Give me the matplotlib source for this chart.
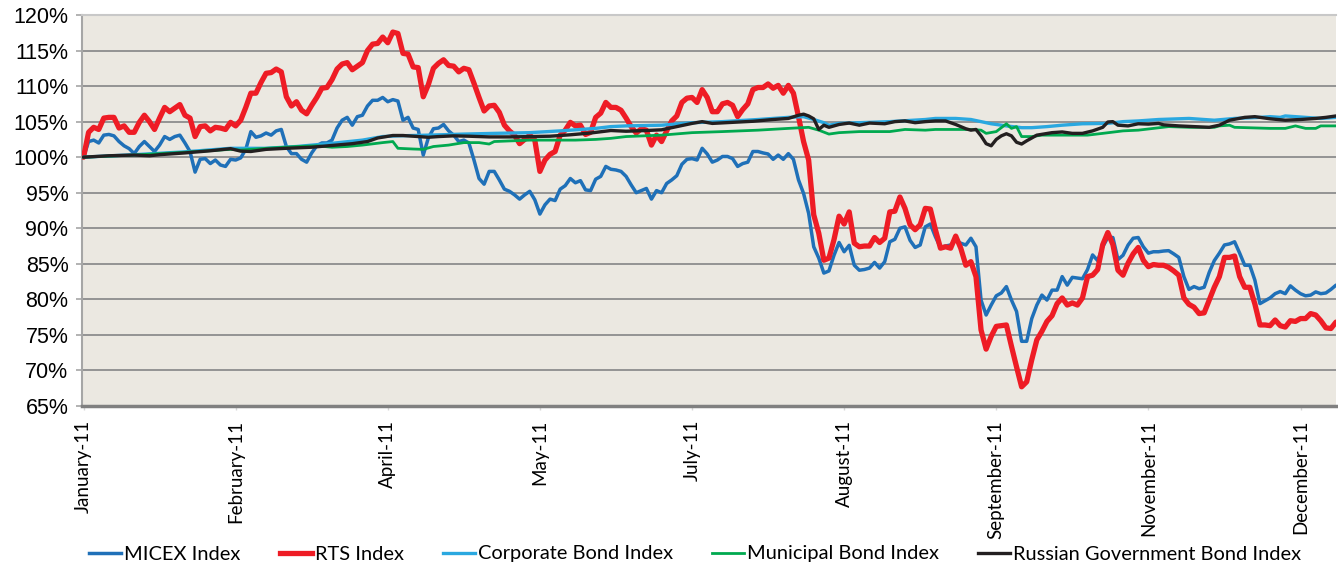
import numpy as np
import matplotlib
matplotlib.use("Agg")
import matplotlib.pyplot as plt
from matplotlib.lines import Line2D

# ---------------- data ----------------
tick_days = [0, 30, 60, 90, 120, 150, 180, 210, 240]
tick_labels = ["January-11", "February-11", "April-11", "May-11", "July-11",
               "August-11", "September-11", "November-11", "December-11"]

micex = [100.0, 102.2, 102.4, 102.0, 103.1, 103.2, 103.0, 102.2, 101.6, 101.2,
         100.5, 101.5, 102.2, 101.5, 100.8, 101.7, 102.9, 102.5, 102.9, 103.1,
         102.0, 100.8, 97.9, 99.7, 99.8, 99.1, 99.6, 98.9, 98.7, 99.7,
         99.6, 99.9, 101.1, 103.6, 102.8, 103.0, 103.4, 103.1, 103.7, 103.9,
         101.5, 100.5, 100.5, 99.7, 99.3, 100.6, 101.6, 102.0, 102.0, 102.4,
         104.1, 105.2, 105.6, 104.5, 105.7, 105.9, 107.2, 108.0, 108.0, 108.4,
         107.8, 108.1, 107.9, 105.2, 105.6, 104.1, 103.9, 100.3, 102.7, 104.0,
         104.1, 104.6, 103.7, 103.1, 102.2, 102.4, 102.0, 99.6, 97.0, 96.2,
         98.0, 98.0, 96.8, 95.5, 95.2, 94.7, 94.1, 94.7, 95.2, 94.0,
         92.0, 93.3, 94.1, 93.9, 95.5, 96.0, 97.0, 96.4, 96.7, 95.4,
         95.3, 96.9, 97.3, 98.7, 98.3, 98.2, 98.0, 97.3, 96.1, 95.0,
         95.3, 95.6, 94.1, 95.3, 95.0, 96.3, 96.8, 97.4, 99.0, 99.7,
         99.8, 99.6, 101.25, 100.45, 99.3, 99.6, 100.1, 100.1, 99.8, 98.7,
         99.1, 99.3, 100.8, 100.8, 100.6, 100.45, 99.7, 100.3, 99.7, 100.5,
         99.7, 96.8, 94.9, 92.1, 87.4, 85.8, 83.7, 84.0, 86.2, 88.0,
         86.7, 87.6, 84.8, 84.1, 84.2, 84.4, 85.2, 84.4, 85.3, 88.1,
         88.45, 90.0, 90.2, 88.3, 87.3, 87.65, 90.2, 90.6, 88.8, 87.3,
         87.5, 87.65, 88.3, 87.9, 87.65, 88.6, 87.4, 79.9, 77.8, 79.2,
         80.5, 80.9, 81.8, 79.9, 78.3, 74.1, 74.1, 77.3, 79.2, 80.6,
         79.9, 81.3, 81.3, 83.2, 82.0, 83.1, 83.0, 82.9, 84.2, 86.25,
         85.45, 87.4, 88.7, 88.7, 85.6, 86.2, 87.65, 88.6, 88.7, 87.4,
         86.5, 86.7, 86.7, 86.8, 86.85, 86.4, 85.9, 83.2, 81.4, 81.8,
         81.5, 81.7, 83.8, 85.45, 86.5, 87.65, 87.8, 88.1, 86.5, 84.8,
         84.8, 82.7, 79.4, 79.8, 80.2, 80.8, 81.1, 80.8, 81.9, 81.3,
         80.8, 80.5, 80.6, 81.05, 80.8, 80.9, 81.4, 82.0]

rts = [100.0, 103.5, 104.2, 103.9, 105.5, 105.6, 105.6, 104.1, 104.4, 103.5,
       103.5, 104.9, 105.9, 105.0, 103.9, 105.5, 107.0, 106.4, 106.9, 107.4,
       105.9, 105.5, 102.9, 104.3, 104.4, 103.7, 104.2, 104.1, 103.9, 104.9,
       104.4, 105.2, 107.0, 109.0, 109.0, 110.5, 111.8, 111.9, 112.4, 112.0,
       108.5, 107.2, 107.8, 106.6, 106.1, 107.3, 108.4, 109.7, 109.8, 110.9,
       112.4, 113.1, 113.3, 112.3, 112.8, 113.3, 115.0, 115.9, 116.0, 116.9,
       116.1, 117.6, 117.4, 114.6, 114.5, 112.7, 112.6, 108.5, 110.2, 112.5,
       113.2, 113.7, 112.9, 112.8, 112.0, 112.5, 112.3, 110.4, 108.4, 106.5,
       107.2, 107.3, 106.3, 104.5, 103.7, 103.1, 101.9, 102.5, 103.1, 102.4,
       98.0, 99.6, 100.4, 100.8, 103.1, 103.8, 104.9, 104.4, 104.5, 103.2,
       103.5, 105.6, 106.2, 107.7, 107.0, 107.0, 106.6, 105.5, 104.3, 103.4,
       104.0, 103.8, 101.7, 103.1, 102.2, 103.7, 105.1, 105.8, 107.7, 108.3,
       108.4, 107.7, 109.5, 108.4, 106.4, 106.4, 107.5, 107.7, 107.3, 105.7,
       106.7, 107.5, 109.5, 109.8, 109.8, 110.3, 109.7, 110.1, 109.0, 110.1,
       109.0, 105.7, 102.2, 99.6, 91.9, 89.3, 85.5, 85.8, 88.4, 91.7,
       90.6, 92.3, 87.9, 87.4, 87.5, 87.5, 88.7, 88.0, 88.6, 92.3,
       92.4, 94.4, 92.8, 90.5, 89.8, 90.5, 92.8, 92.7, 89.8, 87.2,
       87.4, 87.2, 88.9, 87.2, 84.8, 85.3, 83.2, 75.7, 73.0, 74.8,
       76.2, 76.3, 76.4, 73.4, 70.5, 67.7, 68.4, 71.5, 74.3, 75.5,
       76.9, 77.7, 79.4, 80.2, 79.2, 79.5, 79.2, 80.2, 83.2, 83.4,
       84.2, 87.7, 89.4, 87.7, 84.1, 83.4, 85.1, 86.4, 87.3, 85.5,
       84.6, 84.9, 84.8, 84.8, 84.5, 84.0, 83.4, 80.2, 79.3, 78.9,
       78.0, 78.1, 79.9, 81.7, 83.2, 85.9, 85.9, 86.1, 83.2, 81.7,
       81.7, 79.35, 76.4, 76.4, 76.3, 77.1, 76.3, 76.1, 77.0, 76.9,
       77.3, 77.3, 78.0, 77.8, 77.0, 76.0, 75.9, 76.8]

corp_days = [0, 10, 20, 29, 36, 42, 49, 55, 59, 62, 68, 75, 81, 88, 94, 101, 104, 107,
             114, 120, 126, 133, 139, 142, 144, 146, 147, 149, 153, 159, 166, 168, 172,
             175, 177, 179, 182, 185, 187, 190, 193, 197, 202, 205, 208, 212, 218, 223,
             227, 232, 234, 236, 237, 241, 244, 247]
corp = [100.0, 100.35, 100.75, 101.25, 101.25, 101.5, 101.95, 102.4, 102.9, 103.0,
        103.1, 103.25, 103.35, 103.45, 103.7, 104.05, 104.3, 104.4, 104.5, 104.85,
        105.0, 105.3, 105.6, 105.7, 105.3, 104.85, 104.5, 104.75, 104.85, 105.0,
        105.3, 105.45, 105.45, 105.3, 105.0, 104.7, 104.4, 104.15, 104.15, 104.3,
        104.5, 104.7, 104.75, 105.0, 105.1, 105.3, 105.45, 105.2, 105.45, 105.6,
        105.7, 105.6, 105.8, 105.6, 105.45, 105.6]

muni_days = [0, 10, 20, 29, 31, 36, 42, 46, 49, 52, 55, 59, 61, 62, 65, 67, 69, 72, 75,
             78, 80, 81, 88, 97, 101, 104, 107, 114, 120, 126, 133, 139, 143, 145, 147,
             149, 153, 159, 162, 166, 168, 175, 177, 178, 180, 182, 183, 184, 185, 187,
             189, 195, 198, 201, 205, 208, 211, 214, 218, 223, 224, 226, 227, 234, 237,
             239, 241, 243, 244, 247]
muni = [100.0, 100.3, 100.7, 101.1, 101.0, 101.25, 101.5, 101.6, 101.4, 101.5,
        101.7, 102.05, 102.2, 101.25, 101.15, 101.1, 101.5, 101.7, 102.05, 102.05,
        101.85, 102.2, 102.4, 102.4, 102.5, 102.65, 102.9, 103.1, 103.45, 103.6,
        103.8, 104.05, 104.2, 103.8, 103.25, 103.45, 103.6, 103.6, 103.9, 103.8,
        103.9, 103.9, 103.8, 103.35, 103.6, 104.7, 104.05, 104.3, 102.9, 102.9,
        103.1, 103.1, 103.1, 103.35, 103.7, 103.8, 104.05, 104.3, 104.2, 104.2,
        104.4, 104.5, 104.2, 104.05, 104.05, 104.4, 104.05, 104.05, 104.4, 104.4]

gov_days = [0, 5, 10, 13, 15, 20, 25, 29, 31, 33, 36, 40, 45, 49, 53, 56, 58, 61, 63,
            66, 68, 70, 73, 76, 80, 84, 88, 92, 96, 100, 104, 107, 111, 114, 117, 120,
            122, 124, 128, 132, 136, 139, 141, 142, 143, 144, 145, 146, 147, 149, 151,
            153, 155, 158, 160, 162, 164, 166, 168, 170, 172, 174, 175, 176, 177, 178,
            179, 180, 181, 182, 183, 184, 185, 186, 188, 191, 193, 195, 197, 199, 201,
            202, 203, 204, 206, 208, 210, 212, 213, 216, 219, 222, 224, 226, 229, 231,
            234, 237, 240, 243, 245, 247]
gov = [100.0, 100.2, 100.3, 100.2, 100.35, 100.6, 100.9, 101.2, 100.85, 100.8,
       101.1, 101.25, 101.4, 101.65, 101.9, 102.2, 102.7, 103.05, 103.05, 102.9,
       102.8, 102.9, 103.0, 102.95, 102.85, 102.85, 102.9, 102.95, 103.15, 103.4,
       103.75, 103.65, 103.75, 103.85, 104.3, 104.75, 105.0, 104.75, 104.9, 105.05,
       105.3, 105.45, 105.9, 106.05, 105.8, 105.4, 103.9, 104.5, 104.2, 104.6,
       104.8, 104.5, 104.8, 104.7, 105.0, 105.1, 104.85, 105.0, 105.1, 105.1,
       104.6, 104.0, 103.8, 103.9, 103.0, 101.9, 101.6, 102.5, 103.0, 103.3,
       103.0, 102.1, 101.85, 102.3, 103.1, 103.45, 103.55, 103.35, 103.35, 103.7,
       104.2, 104.95, 105.0, 104.5, 104.4, 104.7, 104.65, 104.75, 104.55, 104.4,
       104.3, 104.2, 104.5, 105.2, 105.6, 105.7, 105.4, 105.2, 105.3, 105.45,
       105.6, 105.8]

series_names = ["MICEX Index", "RTS Index", "Corporate Bond Index",
                "Municipal Bond Index", "Russian Government Bond Index"]
colors = ["#1F70B8", "#EE1C25", "#2AA8E0", "#00A94F", "#231F20"]
widths = [2.5, 3.8, 2.4, 2.0, 2.4]

# ---------------- figure ----------------
W, H = 1338, 564
fig = plt.figure(figsize=(W / 100, H / 100), dpi=100)
ax = fig.add_axes([82 / W, 1 - 406 / H, (1336 - 82) / W, (406 - 15) / H])
ax.set_facecolor("#EBE8E1")

days_eq = np.arange(len(micex))
series = [
    (days_eq, micex),
    (days_eq, rts),
    (corp_days, corp),
    (muni_days, muni),
    (gov_days, gov),
]
for (d, v), name, c, w in zip(series, series_names, colors, widths):
    ax.plot(d, v, color=c, lw=w, label=name, solid_joinstyle="round",
            solid_capstyle="round", zorder=3)

ax.set_xlim(-0.3, 247)
ax.set_ylim(65, 120)

yt = np.arange(65, 121, 5)
ax.set_yticks(yt)
ax.set_yticklabels([f"{v}%" for v in yt], family="Liberation Sans", fontsize=15.5)
ax.yaxis.grid(True, color="#939393", lw=1.4)
ax.set_axisbelow(True)

ax.set_xticks(tick_days)
ax.set_xticklabels(tick_labels, rotation=90, family="Lato", fontsize=13.5,
                   va="top", ha="center")

ax.tick_params(axis="y", direction="out", length=4.3, width=1.2, color="#A6A6A6",
               pad=5.5)
ax.tick_params(axis="x", direction="out", length=3, width=1, color="#D8D8D8",
               pad=7)

ax.spines["right"].set_visible(False)
ax.spines["top"].set_color("#C8C8C8")
ax.spines["top"].set_linewidth(1.5)
ax.spines["left"].set_color("#A6A6A6")
ax.spines["left"].set_linewidth(1.5)
ax.spines["bottom"].set_color("#808080")
ax.spines["bottom"].set_linewidth(2.5)

handles = [Line2D([0], [0], color=c, lw=w) for c, w in zip(colors, widths)]
fig.legend(handles, series_names, loc="center", ncol=5,
           bbox_to_anchor=(695 / W, 1 - 554 / H), frameon=False,
           prop={"family": "Lato", "size": 14.4}, handlelength=1.6,
           handletextpad=0.15, columnspacing=1.95, borderaxespad=0)

fig.savefig("out.png", dpi=100)
